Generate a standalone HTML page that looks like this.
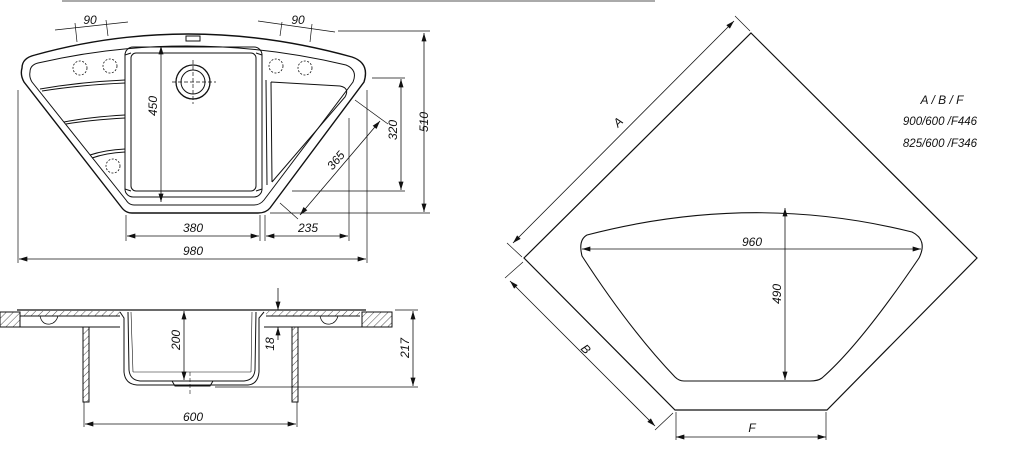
<!DOCTYPE html>
<html><head><meta charset="utf-8"><style>
html,body{margin:0;padding:0;background:#fff;}
svg{display:block;}
text{font-family:"Liberation Sans",sans-serif;font-style:italic;font-size:12px;fill:#111;}
</style></head><body>
<svg width="1010" height="459" viewBox="0 0 1010 459" xmlns="http://www.w3.org/2000/svg">
<defs>
<marker id="a" viewBox="0 0 10 6" refX="10" refY="3" markerWidth="9" markerHeight="5" orient="auto-start-reverse" markerUnits="userSpaceOnUse"><path d="M0,0 L10,3 L0,6 Z" fill="#111"/></marker>
<pattern id="h" width="5" height="5" patternUnits="userSpaceOnUse" patternTransform="rotate(45)"><line x1="0" y1="0" x2="0" y2="5" stroke="#222" stroke-width="0.8"/></pattern>
</defs>
<line x1="62" y1="1" x2="655" y2="1" stroke="#aaa" stroke-width="2"/>
<g fill="none" stroke="#111" stroke-width="1">
<path d="M22,68 Q22,58 35,55 Q190,12 352,57 Q370,63 364,82 L270,208 Q266,213 258,213 L132,213 Q126,213 122,208 L24,82 Q20,75 22,68 Z" stroke-width="1.4"/>
<path d="M30,72 Q30,65 38,63 Q190,28 346,65 Q358,70 353,82 L264,200 Q260,205 254,205 L134,205 Q129,205 126,200 L32,82 Q29,77 30,72 Z"/>
<rect x="125" y="47" width="137" height="150" rx="8"/>
<rect x="131" y="53" width="125" height="138" rx="5"/>
<path d="M125,55 L131,53 M262,55 L256,53 M125,189 L131,191 M262,189 L256,191"/>
<rect x="186" y="36" width="14" height="5"/>
<circle cx="193" cy="82" r="17" stroke-width="1.3"/>
<circle cx="193" cy="82" r="12"/>
<path d="M172,82 H216 M193,60 V104" stroke-dasharray="4 2" stroke-width="0.7"/>
<g stroke-dasharray="2 1.5" stroke-width="0.8">
<circle cx="80" cy="68" r="7"/><circle cx="110" cy="66" r="7"/>
<circle cx="276" cy="66" r="7"/><circle cx="305" cy="68" r="7"/>
<circle cx="113" cy="166" r="7"/>
</g>
<path d="M40,89 Q80,82 125,80 M42,91 Q80,85 125,83"/>
<path d="M64,122 Q90,117 125,115 M66,124 Q90,120 125,118"/>
<path d="M90,155 Q105,150 125,149 M92,158 Q106,153 125,152"/>
<path d="M266,80 L267,185 M271,82 L272,182 M271,82 L340,86 Q350,88 345,97 L272,182"/>
<path d="M55,30 L128,22 M258,21 L335,32" stroke-width="0.7"/>
<path d="M75,23 L77,42 M106,20 L108,36 M282,22 L280,36 M312,24 L310,42" stroke-width="0.7"/>
<path d="M338,31 H430 M270,213 H430 M372,78 H405 M292,191 H405 M355,100 L388,124 M280,203 L298,219" stroke-width="0.7"/>
<line x1="424" y1="33" x2="424" y2="212" stroke-width="0.8" marker-start="url(#a)" marker-end="url(#a)"/>
<line x1="401" y1="79" x2="401" y2="190" stroke-width="0.8" marker-start="url(#a)" marker-end="url(#a)"/>
<line x1="380" y1="121" x2="300" y2="215" stroke-width="0.8" marker-start="url(#a)" marker-end="url(#a)"/>
<path d="M126,215 V241 M260,215 V241 M265,215 V241 M349,118 V241 M18,90 V263 M367,90 V263" stroke-width="0.7"/>
<line x1="127" y1="236" x2="259" y2="236" stroke-width="0.8" marker-start="url(#a)" marker-end="url(#a)"/>
<line x1="266" y1="236" x2="348" y2="236" stroke-width="0.8" marker-start="url(#a)" marker-end="url(#a)"/>
<line x1="19" y1="259" x2="366" y2="259" stroke-width="0.8" marker-start="url(#a)" marker-end="url(#a)"/>
<line x1="161" y1="46" x2="161" y2="202" stroke-width="0.8" marker-start="url(#a)" marker-end="url(#a)"/>
<rect x="0" y="312" width="20" height="15" fill="url(#h)"/>
<rect x="362" y="312" width="30" height="15" fill="url(#h)"/>
<path d="M0,312 H20 V327 H0 M392,312 H362 V327 H392"/>
<path d="M20,327 H120 M264,327 H362"/>
<path d="M17,310 H366" stroke-width="1.2"/>
<path d="M20,316 H120 M266,316 H360"/>
<rect x="22" y="311" width="98" height="5" fill="url(#h)" stroke="none"/>
<rect x="266" y="311" width="94" height="5" fill="url(#h)" stroke="none"/>
<path d="M120,312 L124,318 L124,372 Q125,384 137,385 L248,385 Q258,384 259,372 L259,318 L264,312"/>
<path d="M128,312 L129,370 Q130,380 140,381 L244,381 Q254,380 255,370 L256,312"/>
<path d="M131,312 L133,372 M252,312 L251,372 M133,372 H251" stroke-width="0.6"/>
<path d="M40,316 Q42,325 50,324 Q56,323 58,316 M320,316 Q322,325 330,324 Q336,323 338,316" stroke-width="0.7"/>
<path d="M172,381 L175,386 H210 L213,381" />
<rect x="83" y="327" width="6" height="75" fill="url(#h)"/>
<rect x="292" y="327" width="6" height="75" fill="url(#h)"/>
<path d="M190,372 V395" stroke-dasharray="4 2" stroke-width="0.6"/>
<line x1="184" y1="311" x2="184" y2="380" stroke-width="0.8" marker-start="url(#a)" marker-end="url(#a)"/>
<line x1="278" y1="288" x2="278" y2="310" stroke-width="0.8" marker-end="url(#a)"/>
<line x1="278" y1="327" x2="278" y2="340" stroke-width="0.8"/>
<line x1="278" y1="335" x2="278" y2="327" stroke-width="0.8" marker-end="url(#a)"/>
<path d="M395,310 H418 M215,387 H418 M84,402 V427 M297,402 V427" stroke-width="0.7"/>
<line x1="413" y1="311" x2="413" y2="386" stroke-width="0.8" marker-start="url(#a)" marker-end="url(#a)"/>
<line x1="85" y1="424" x2="296" y2="424" stroke-width="0.8" marker-start="url(#a)" marker-end="url(#a)"/>
<path d="M751,33 L977,258 L827,410 L675,410 L524,258 Z" stroke-width="1.2"/>
<path d="M587,235 Q752,192 912,232 Q928,240 919,258 Q860,345 822,378 Q818,381 810,381 L684,381 Q679,381 675,377 Q630,330 582,256 Q578,240 587,235 Z" stroke-width="1.1"/>
<path d="M735,16 L750,31 M507,243 L522,257 M505,278 L523,262 M655,430 L673,413 M676,412 V440 M826,412 V440" stroke-width="0.7"/>
<line x1="513" y1="243" x2="734" y2="21" stroke-width="0.8" marker-start="url(#a)" marker-end="url(#a)"/>
<line x1="510" y1="281" x2="655" y2="426" stroke-width="0.8" marker-start="url(#a)" marker-end="url(#a)"/>
<line x1="676" y1="437" x2="826" y2="437" stroke-width="0.8" marker-start="url(#a)" marker-end="url(#a)"/>
<line x1="582" y1="249" x2="921" y2="249" stroke-width="0.8" marker-start="url(#a)" marker-end="url(#a)"/>
<line x1="785" y1="208" x2="785" y2="380" stroke-width="0.8" marker-start="url(#a)" marker-end="url(#a)"/>
</g>
<text x="90" y="24" text-anchor="middle">90</text>
<text x="298" y="24" text-anchor="middle">90</text>
<text x="193" y="232" text-anchor="middle">380</text>
<text x="308" y="232" text-anchor="middle">235</text>
<text x="193" y="255" text-anchor="middle">980</text>
<text transform="translate(157,106) rotate(-90)" text-anchor="middle">450</text>
<text transform="translate(397,130) rotate(-90)" text-anchor="middle">320</text>
<text transform="translate(428,122) rotate(-90)" text-anchor="middle">510</text>
<text transform="translate(339,163) rotate(-50)" text-anchor="middle">365</text>
<text transform="translate(180,340) rotate(-90)" text-anchor="middle">200</text>
<text transform="translate(274,344) rotate(-90)" text-anchor="middle">18</text>
<text transform="translate(409,348) rotate(-90)" text-anchor="middle">217</text>
<text x="193" y="421" text-anchor="middle">600</text>
<text transform="translate(621,125) rotate(-45)" text-anchor="middle">A</text>
<text transform="translate(583,352) rotate(45)" text-anchor="middle">B</text>
<text x="752" y="432" text-anchor="middle">F</text>
<text x="752" y="246" text-anchor="middle">960</text>
<text transform="translate(781,294) rotate(-90)" text-anchor="middle">490</text>
<text x="942" y="104" text-anchor="middle">A / B / F</text>
<text x="940" y="125" text-anchor="middle" style="font-size:11.5px">900/600 /F446</text>
<text x="940" y="147" text-anchor="middle" style="font-size:11.5px">825/600 /F346</text>
</svg>
</body></html>
